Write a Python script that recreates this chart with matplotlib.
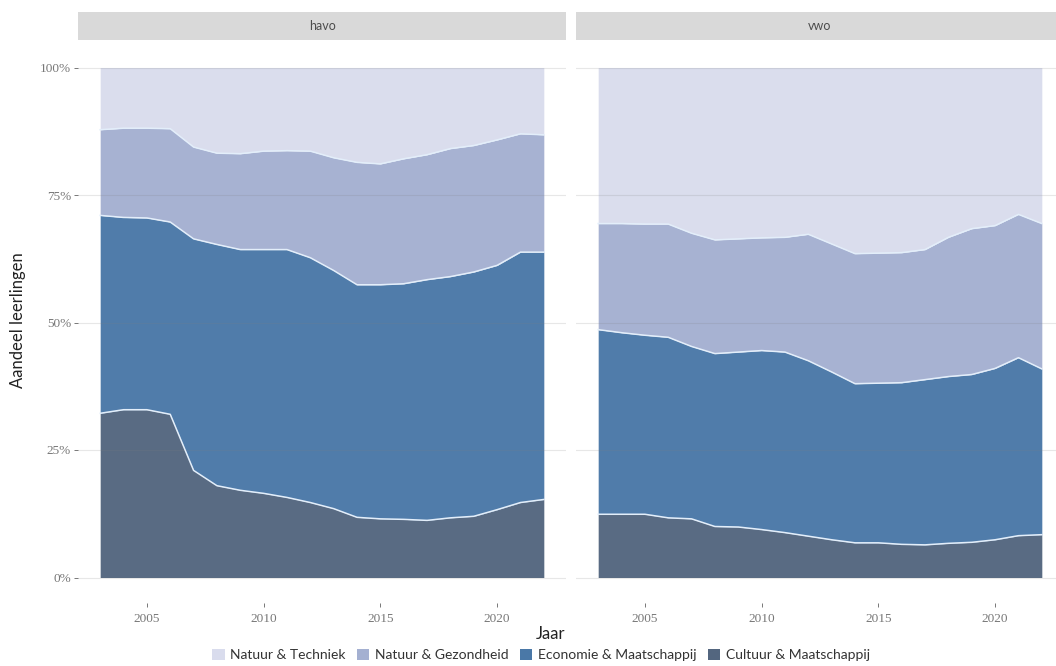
import matplotlib
matplotlib.use("Agg")
import matplotlib.pyplot as plt
from matplotlib.patches import Patch
import numpy as np

plt.rcParams['font.family'] = ['Lato', 'DejaVu Sans']

years = list(range(2003, 2023))
profielen = ["Natuur & Techniek", "Natuur & Gezondheid", "Economie & Maatschappij", "Cultuur & Maatschappij"]
kleuren = ["#d9dced", "#a4b0d1", "#4a78a7", "#53667f"]

# aandeel per profiel (%), havo
havo_cm = [32.2, 32.9, 32.9, 32.0, 21.0, 18.0, 17.1, 16.5, 15.7, 14.7, 13.5, 11.8, 11.5, 11.4, 11.2, 11.7, 12.0, 13.3, 14.7, 15.3]
havo_em = [38.8, 37.7, 37.6, 37.7, 45.4, 47.3, 47.2, 47.8, 48.6, 48.0, 46.7, 45.6, 45.9, 46.2, 47.2, 47.3, 47.9, 47.9, 49.1, 48.5]
havo_ng = [16.8, 17.5, 17.6, 18.3, 18.0, 17.9, 18.8, 19.3, 19.4, 20.9, 22.1, 24.0, 23.7, 24.5, 24.5, 25.1, 24.8, 24.6, 23.2, 23.0]
havo_nt = [12.2, 11.9, 11.9, 12.0, 15.6, 16.8, 16.9, 16.4, 16.3, 16.4, 17.7, 18.6, 18.9, 17.9, 17.1, 15.9, 15.3, 14.2, 13.0, 13.2]

# aandeel per profiel (%), vwo
vwo_cm = [12.4, 12.4, 12.4, 11.7, 11.5, 10.0, 9.9, 9.4, 8.8, 8.1, 7.4, 6.8, 6.8, 6.5, 6.4, 6.7, 6.9, 7.4, 8.2, 8.4]
vwo_em = [36.2, 35.6, 35.1, 35.4, 33.8, 33.9, 34.3, 35.1, 35.4, 34.4, 32.9, 31.2, 31.3, 31.7, 32.4, 32.7, 32.9, 33.6, 34.9, 32.5]
vwo_ng = [20.8, 21.4, 21.8, 22.2, 22.2, 22.3, 22.2, 22.1, 22.5, 24.8, 25.1, 25.5, 25.5, 25.5, 25.5, 27.3, 28.6, 28.0, 28.1, 28.5]
vwo_nt = [30.6, 30.6, 30.7, 30.7, 32.5, 33.8, 33.6, 33.4, 33.3, 32.7, 34.6, 36.5, 36.4, 36.3, 35.7, 33.3, 31.6, 31.0, 28.8, 30.6]

W, H = 1056, 666
fig = plt.figure(figsize=(W / 100, H / 100), dpi=100)


def px_axes(l, t, r, b):
    return fig.add_axes([l / W, 1 - b / H, (r - l) / W, (b - t) / H])


def draw_panel(ax, strip, naam, cm, em, ng, nt, show_y):
    # stack from bottom: C&M, E&M, N&G, N&T
    lagen = [cm, em, ng, nt]
    lagen_kleur = kleuren[::-1]
    x = np.array(years)
    onder = np.zeros(len(years))
    for waarden, kleur in zip(lagen, lagen_kleur):
        boven = onder + np.array(waarden) / 100
        ax.fill_between(x, onder, boven, color=kleur, lw=0, alpha=0.97, zorder=2)
        onder = boven
    onder = np.zeros(len(years))
    for waarden in lagen[:-1]:
        onder = onder + np.array(waarden) / 100
        ax.plot(x, onder, color="#e3eefa", lw=1.1, zorder=4)

    ax.set_xlim(2003 - 0.95, 2022 + 0.95)
    ax.set_ylim(-0.05, 1.05)
    ax.set_facecolor("white")
    for s in ax.spines.values():
        s.set_visible(False)
    for yv in [0, 0.25, 0.5, 0.75, 1.0]:
        ax.axhline(yv, color="#7f7f7f", lw=0.8, alpha=0.18, zorder=3)
    ax.set_xticks([2005, 2010, 2015, 2020])
    ax.set_yticks([0, 0.25, 0.5, 0.75, 1.0])
    ax.tick_params(axis="both", length=3, width=0.7, color="#777777", labelsize=9.5,
                   labelcolor="#777777", pad=2)
    for lab in ax.get_xticklabels() + ax.get_yticklabels():
        lab.set_fontfamily("Liberation Serif")
    ax.tick_params(axis="x", pad=4)
    if show_y:
        ax.set_yticklabels(["0%", "25%", "50%", "75%", "100%"])
        for lab in ax.get_yticklabels():
            lab.set_fontfamily("Liberation Serif")
    else:
        ax.set_yticklabels([])
        ax.tick_params(axis="y", length=0)

    strip.set_facecolor("#d9d9d9")
    strip.set_xticks([])
    strip.set_yticks([])
    for s in strip.spines.values():
        s.set_visible(False)
    strip.text(0.5, 0.5, naam, ha="center", va="center", fontsize=9, color="#4d4d4d",
               transform=strip.transAxes)


ax1 = px_axes(78, 42, 566, 603)
st1 = px_axes(78, 12, 566, 40)
ax2 = px_axes(576, 42, 1064, 603)
st2 = px_axes(576, 12, 1064, 40)

draw_panel(ax1, st1, "havo", havo_cm, havo_em, havo_ng, havo_nt, True)
draw_panel(ax2, st2, "vwo", vwo_cm, vwo_em, vwo_ng, vwo_nt, False)

fig.text(18 / W, 1 - 320 / H, "Aandeel leerlingen", rotation=90, ha="center", va="center",
         fontsize=12, color="#222222")
fig.text(551 / W, 1 - 634 / H, "Jaar", ha="center", va="center", fontsize=12, color="#222222")

handles = [Patch(facecolor=k, edgecolor="none") for k in kleuren]
fig.legend(handles, profielen, loc="center", bbox_to_anchor=(541 / W, 1 - 655 / H), ncol=4,
           frameon=False, fontsize=10, handlelength=0.9, handleheight=0.9, handletextpad=0.4,
           columnspacing=0.8, labelcolor="#333333")

fig.savefig("out.png", dpi=100)
